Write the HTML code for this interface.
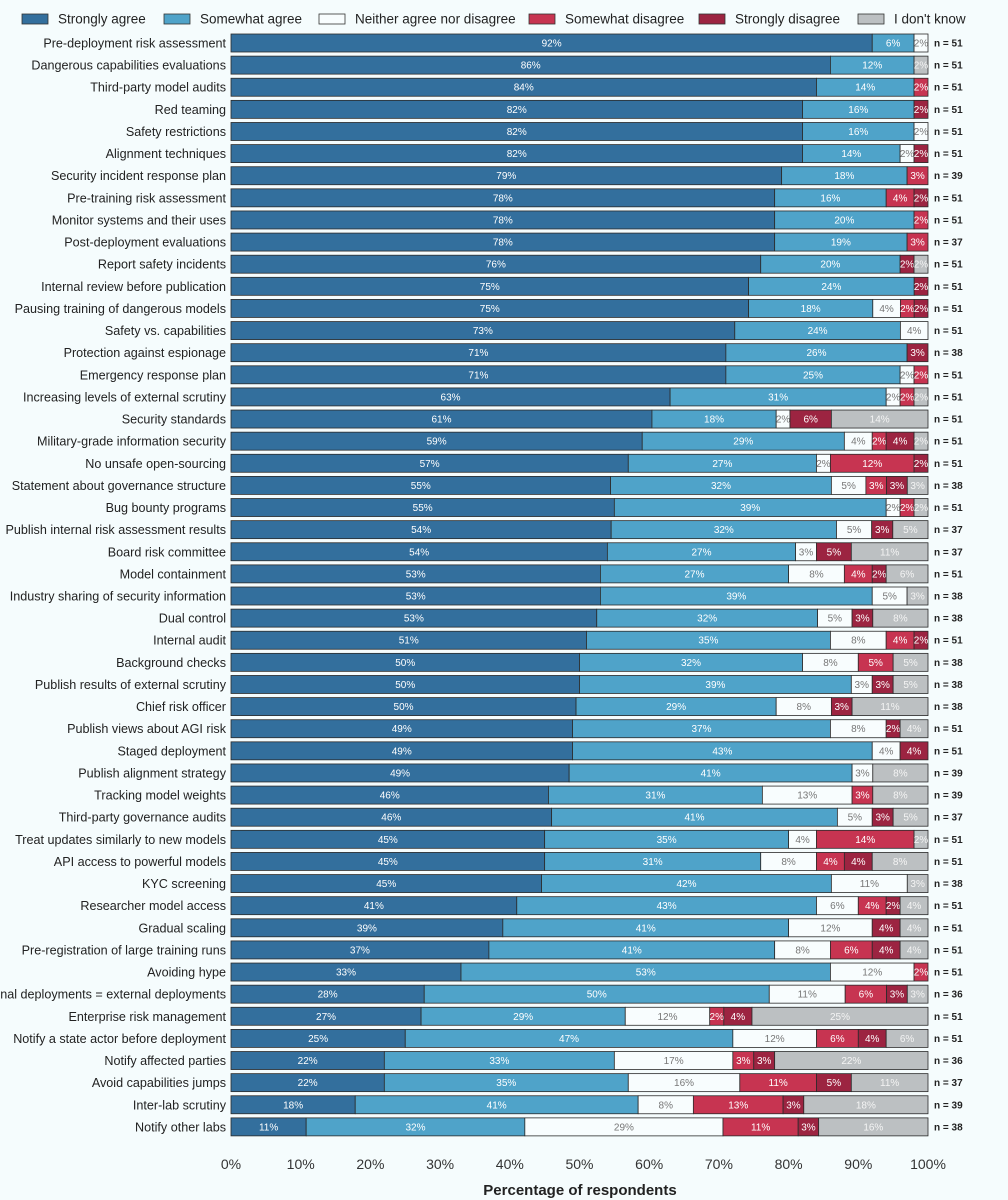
<!DOCTYPE html>
<html><head><meta charset="utf-8">
<style>
html,body{margin:0;padding:0;background:#f5fcfd;overflow:hidden;width:1008px;height:1200px;}
svg{display:block;font-family:"Liberation Sans",sans-serif;}
</style></head>
<body>
<svg id="chart" width="1008" height="1200"></svg>
<script>
const categories=["Pre-deployment risk assessment","Dangerous capabilities evaluations","Third-party model audits","Red teaming","Safety restrictions","Alignment techniques","Security incident response plan","Pre-training risk assessment","Monitor systems and their uses","Post-deployment evaluations","Report safety incidents","Internal review before publication","Pausing training of dangerous models","Safety vs. capabilities","Protection against espionage","Emergency response plan","Increasing levels of external scrutiny","Security standards","Military-grade information security","No unsafe open-sourcing","Statement about governance structure","Bug bounty programs","Publish internal risk assessment results","Board risk committee","Model containment","Industry sharing of security information","Dual control","Internal audit","Background checks","Publish results of external scrutiny","Chief risk officer","Publish views about AGI risk","Staged deployment","Publish alignment strategy","Tracking model weights","Third-party governance audits","Treat updates similarly to new models","API access to powerful models","KYC screening","Researcher model access","Gradual scaling","Pre-registration of large training runs","Avoiding hype","Internal deployments = external deployments","Enterprise risk management","Notify a state actor before deployment","Notify affected parties","Avoid capabilities jumps","Inter-lab scrutiny","Notify other labs"];
const stronglyAgree=[92,86,84,82,82,82,79,78,78,78,76,75,75,73,71,71,63,61,59,57,55,55,54,54,53,53,53,51,50,50,50,49,49,49,46,46,45,45,45,41,39,37,33,28,27,25,22,22,18,11];
const somewhatAgree=[6,12,14,16,16,14,18,16,20,19,20,24,18,24,26,25,31,18,29,27,32,39,32,27,27,39,32,35,32,39,29,37,43,41,31,41,35,31,42,43,41,41,53,50,29,47,33,35,41,32];
const neither=[2,0,0,0,2,2,0,0,0,0,0,0,4,4,0,2,2,2,4,2,5,2,5,3,8,5,5,8,8,3,8,8,4,3,13,5,4,8,11,6,12,8,12,11,12,12,17,16,8,29];
const somewhatDisagree=[0,0,2,0,0,0,3,4,2,3,0,0,2,0,0,2,2,0,2,12,3,2,0,0,4,0,0,4,5,0,0,0,0,0,3,0,14,4,0,4,0,6,2,6,2,6,3,11,13,11];
const stronglyDisagree=[0,0,0,2,0,2,0,2,0,0,2,2,2,0,3,0,0,6,4,2,3,0,3,5,2,0,3,2,0,3,3,2,4,0,0,3,0,4,0,2,4,4,0,3,4,4,3,5,3,3];
const dontKnow=[0,2,0,0,0,0,0,0,0,0,2,0,0,0,0,0,2,14,2,0,3,2,5,11,6,3,8,0,5,5,11,4,0,8,8,5,2,8,3,4,4,4,0,3,25,6,22,11,18,16];
const nValues=[51,51,51,51,51,51,39,51,51,37,51,51,51,51,38,51,51,51,51,51,38,51,37,37,51,38,38,51,38,38,38,51,51,39,39,37,51,51,38,51,51,51,51,36,51,51,36,37,39,38];
const tickLabels=["0%","10%","20%","30%","40%","50%","60%","70%","80%","90%","100%"];
const seriesNames=["Strongly agree","Somewhat agree","Neither agree nor disagree","Somewhat disagree","Strongly disagree","I don't know"];

const series=[stronglyAgree,somewhatAgree,neither,somewhatDisagree,stronglyDisagree,dontKnow];
const colors=["#336f9d","#4fa3c9","#f8fdfe","#c73451","#9c2441","#bcc0c2"];
const textColors=["#ffffff","#ffffff","#777777","#ffffff","#ffffff","#f4f4f4"];
const keys=["strongly-agree","somewhat-agree","neither","somewhat-disagree","strongly-disagree","dont-know"];
const X0=231,X1=928,Y0=43,STEP=22.12,BH=18;
const xs=v=>X0+(X1-X0)*v/100;
const ys=i=>Y0+i*STEP;
const NS="http://www.w3.org/2000/svg";
const svg=document.getElementById('chart');
function mk(tag,attrs,parent){const e=document.createElementNS(NS,tag);for(const k in attrs)e.setAttribute(k,attrs[k]);(parent||svg).appendChild(e);return e;}

const legX=[22,164,319,529,699,858];
const lg=mk('g',{});


seriesNames.forEach((s,k)=>{
  const g=mk('g',{},lg);
  
  
  mk('rect',{x:legX[k],y:14,width:26,height:10,fill:colors[k],stroke:'#333',"stroke-width":0.8},g);
  const t=mk('text',{x:legX[k]+36,y:23.5,"font-size":13.5,fill:'#222'},g);
  t.textContent=s;
});

categories.forEach((c,i)=>{
  const g=mk('g',{});
  
  
  const cy=ys(i);
  const lab=mk('text',{x:226,y:cy+4.5,"font-size":12.6,fill:'#222',"text-anchor":'end'},g);
  
  
  lab.textContent=c;
  let total=0;series.forEach(s=>total+=s[i]);
  let acc=0;
  series.forEach((s,k)=>{
    const v=s[i];if(!v)return;
    const a=xs(acc/total*100),b=xs((acc+v)/total*100);acc+=v;
    const r=mk('rect',{x:a,y:cy-BH/2,width:b-a,height:BH,fill:colors[k],stroke:'#2b2b2b',"stroke-width":0.8},g);
    
    
    const t=mk('text',{x:(a+b)/2,y:cy+3.5,"font-size":10,fill:textColors[k],"text-anchor":'middle'},g);
    
    
    t.textContent=v+'%';
  });
  const n=mk('text',{x:934,y:cy+3.5,"font-size":10,"font-weight":'bold',fill:'#222'},g);
  
  
  n.textContent='n = '+nValues[i];
});

const ax=mk('g',{});


tickLabels.forEach((t,k)=>{
  const e=mk('text',{x:xs(k*10),y:1169,"font-size":14,fill:'#333',"text-anchor":'middle'},ax);
  
  
  e.textContent=t;
});
const tt=mk('text',{x:580,y:1195,"font-size":15,"font-weight":'bold',fill:'#222',"text-anchor":'middle'});


tt.textContent='Percentage of respondents';
</script>
</body></html>
